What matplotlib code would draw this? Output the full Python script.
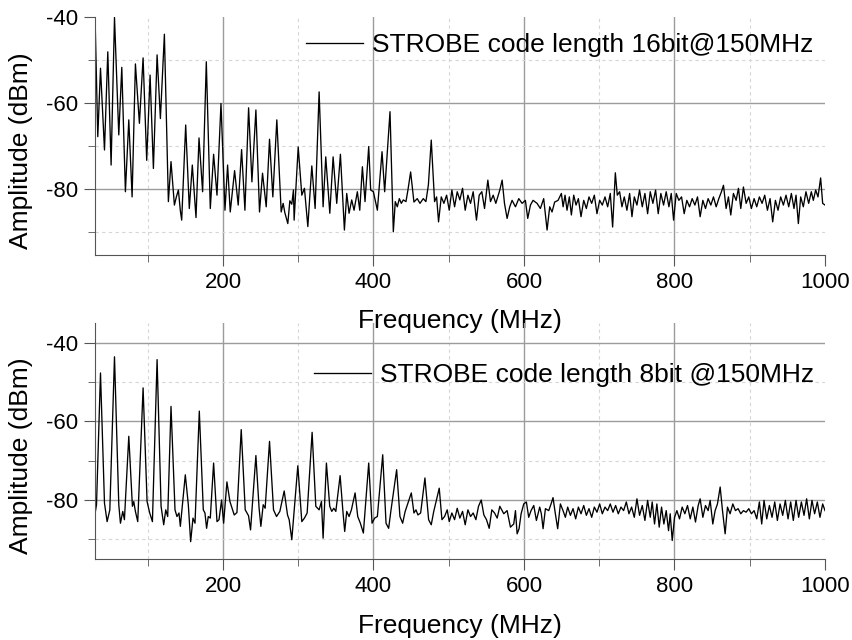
import numpy as np
import matplotlib
matplotlib.use('Agg')
import matplotlib.pyplot as plt

plt.rcParams['font.family'] = ['Liberation Sans', 'DejaVu Sans']
plt.rcParams['axes.unicode_minus'] = False

# spectrum, 16 bit code (peaks / troughs)
freq_16 = [
    30.0, 33.7, 37.3, 42.6, 47.0, 51.4, 55.9, 61.6, 65.6, 70.4,
    74.9, 79.3, 83.7, 89.0, 93.9, 98.7, 103.2, 107.6, 112.5, 116.9,
    122.2, 127.5, 131.0, 135.5, 138.1, 140.8, 143.4, 145.2, 150.5, 155.3,
    159.3, 164.2, 168.2, 173.0, 177.9, 183.2, 187.6, 192.1, 197.4, 202.7,
    206.2, 209.7, 215.5, 220.3, 224.8, 229.2, 234.1, 238.5, 243.8, 248.6,
    252.6, 257.5, 261.9, 266.3, 271.6, 277.4, 280.0, 282.3, 286.2, 288.9,
    291.5, 293.7, 294.6, 300.0, 304.8, 308.3, 312.8, 318.1, 322.5, 327.8,
    333.1, 336.6, 342.0, 346.4, 351.2, 356.1, 361.4, 364.5, 367.6, 371.1,
    374.2, 378.6, 381.8, 385.3, 388.8, 393.7, 396.3, 399.9, 405.2, 411.4,
    414.9, 422.0, 426.4, 429.0, 431.7, 434.4, 437.0, 439.7, 443.2, 446.0,
    449.4, 453.8, 458.2, 461.8, 466.2, 469.7, 473.0, 476.8, 481.2, 483.9,
    486.5, 490.1, 493.6, 497.2, 500.7, 504.2, 507.8, 511.3, 514.8, 518.4,
    521.9, 525.5, 529.0, 532.5, 536.9, 540.5, 544.0, 547.6, 552.0, 555.5,
    559.1, 562.6, 567.9, 571.0, 574.1, 577.6, 581.1, 584.2, 588.7, 593.1,
    597.5, 601.9, 605.0, 608.6, 612.1, 617.4, 621.8, 626.2, 630.7, 634.2,
    637.3, 640.8, 645.3, 649.7, 652.0, 654.6, 657.2, 660.3, 663.0, 666.1,
    669.2, 672.3, 675.8, 679.4, 682.9, 686.4, 690.0, 693.5, 697.0, 700.6,
    704.1, 707.7, 711.2, 714.7, 717.8, 721.4, 724.0, 727.1, 730.2, 733.3,
    736.8, 740.4, 743.5, 746.6, 750.1, 753.6, 757.2, 760.7, 764.3, 767.8,
    771.3, 774.9, 778.4, 781.9, 785.5, 789.0, 792.6, 795.7, 798.8, 802.3,
    805.8, 809.4, 812.9, 816.4, 820.0, 823.5, 827.1, 830.6, 834.1, 837.7,
    841.2, 844.7, 848.3, 851.8, 855.4, 858.9, 862.4, 865.1, 868.6, 871.7,
    874.8, 878.3, 881.9, 885.0, 888.1, 891.6, 895.2, 898.7, 902.2, 905.8,
    909.3, 912.8, 916.4, 919.9, 923.5, 927.0, 930.5, 934.1, 937.6, 941.1,
    944.7, 948.2, 951.8, 955.3, 958.8, 961.5, 964.6, 967.7, 971.2, 974.7,
    978.3, 981.8, 984.5, 987.6, 990.7, 994.2, 996.9, 1000.0,
]
amp_16 = [
    -39.5, -67.8, -51.9, -70.9, -48.1, -74.4, -40.1, -67.4, -51.7, -80.6,
    -63.9, -81.8, -50.9, -64.7, -49.5, -73.3, -53.5, -75.2, -48.8, -63.6,
    -44.0, -82.9, -73.6, -83.7, -81.8, -80.2, -85.0, -87.2, -65.1, -84.5,
    -74.4, -86.6, -68.1, -80.6, -50.4, -84.5, -71.9, -81.4, -60.1, -84.9,
    -74.4, -85.3, -75.7, -83.7, -70.8, -84.9, -61.1, -78.3, -61.6, -85.3,
    -76.3, -84.1, -68.4, -81.8, -63.9, -85.3, -83.3, -85.5, -88.0, -82.7,
    -83.5, -80.2, -87.2, -70.2, -81.4, -79.8, -88.7, -74.6, -84.5, -57.4,
    -84.1, -72.5, -85.6, -72.5, -83.3, -71.9, -89.5, -81.0, -85.6, -82.5,
    -84.9, -80.6, -84.9, -74.8, -82.9, -70.1, -80.2, -80.6, -84.9, -71.3,
    -80.6, -62.0, -89.9, -82.9, -84.1, -82.2, -83.3, -82.5, -82.9, -80.0,
    -76.0, -83.0, -82.2, -83.3, -82.2, -82.9, -79.0, -68.6, -82.9, -81.8,
    -87.6, -81.8, -83.3, -81.4, -84.9, -80.2, -84.1, -80.6, -82.5, -79.8,
    -84.9, -81.4, -83.3, -80.6, -87.2, -81.4, -80.6, -84.5, -77.9, -82.9,
    -81.4, -83.3, -80.2, -77.9, -83.3, -86.8, -84.1, -82.6, -84.1, -82.2,
    -83.3, -82.6, -86.8, -83.7, -82.6, -83.3, -84.5, -82.2, -89.5, -84.1,
    -85.3, -83.0, -82.6, -81.0, -84.1, -81.4, -84.9, -81.8, -86.0, -81.4,
    -83.7, -82.2, -86.4, -82.6, -84.5, -81.8, -83.3, -81.4, -85.7, -82.6,
    -83.7, -81.8, -84.1, -81.0, -88.8, -76.2, -81.4, -80.6, -84.1, -81.8,
    -84.9, -81.0, -86.4, -81.8, -83.7, -80.2, -84.1, -81.0, -85.7, -80.6,
    -83.3, -80.2, -85.7, -81.0, -83.7, -80.6, -84.1, -81.0, -87.2, -81.0,
    -82.6, -81.8, -85.7, -82.6, -84.1, -82.2, -83.7, -81.8, -86.4, -82.6,
    -84.5, -82.2, -83.7, -81.8, -84.1, -82.2, -80.6, -79.1, -84.5, -81.8,
    -86.0, -81.0, -82.6, -79.8, -84.5, -79.5, -83.3, -81.8, -84.5, -82.2,
    -84.1, -81.8, -83.3, -81.4, -84.9, -82.2, -87.6, -82.6, -84.9, -81.8,
    -83.7, -81.4, -84.1, -81.0, -84.5, -81.4, -88.0, -81.8, -84.1, -80.6,
    -83.3, -80.6, -82.6, -80.2, -81.8, -77.4, -83.3, -83.7,
]

# spectrum, 8 bit code
freq_8 = [
    30.2, 32.0, 37.3, 42.6, 46.1, 49.7, 55.9, 61.6, 63.8, 66.9,
    69.1, 74.9, 79.7, 81.5, 83.7, 86.8, 93.9, 99.2, 102.7, 106.3,
    112.5, 117.8, 121.3, 124.0, 126.6, 131.0, 136.3, 138.9, 141.6, 143.4,
    150.0, 154.0, 157.1, 160.2, 162.9, 168.6, 173.9, 176.1, 178.3, 180.5,
    183.2, 187.6, 192.1, 194.8, 198.2, 200.9, 205.3, 209.3, 215.0, 218.6,
    224.3, 229.6, 234.0, 236.7, 243.8, 248.0, 250.4, 253.5, 256.1, 261.9,
    267.2, 271.2, 275.6, 281.4, 285.8, 288.0, 291.5, 294.6, 299.5, 304.8,
    308.3, 311.9, 318.5, 323.4, 327.8, 330.9, 333.1, 337.5, 341.9, 344.6,
    347.3, 350.0, 355.7, 359.6, 361.8, 364.5, 367.6, 370.7, 375.6, 379.1,
    382.6, 386.6, 393.7, 398.1, 401.6, 405.2, 412.3, 416.7, 420.2, 423.0,
    430.8, 435.2, 438.8, 442.0, 450.3, 453.8, 456.5, 459.1, 462.7, 468.4,
    473.3, 476.8, 480.0, 487.4, 491.0, 494.5, 498.0, 500.7, 504.2, 507.8,
    511.3, 514.8, 518.4, 521.9, 525.5, 529.0, 532.5, 536.1, 539.6, 543.2,
    546.7, 550.2, 553.8, 557.3, 560.9, 564.4, 567.9, 573.2, 577.6, 582.0,
    586.4, 588.7, 590.9, 593.5, 596.2, 599.7, 603.2, 606.3, 609.4, 613.0,
    616.5, 620.9, 623.1, 625.4, 628.5, 632.9, 636.0, 638.6, 641.7, 644.8,
    648.4, 651.9, 655.0, 658.1, 661.7, 665.2, 668.7, 672.3, 675.8, 679.4,
    682.9, 686.4, 690.0, 693.5, 697.0, 700.6, 704.1, 707.7, 711.2, 714.7,
    718.3, 721.8, 725.3, 728.9, 732.4, 736.0, 739.5, 743.0, 746.6, 750.1,
    753.6, 757.2, 760.7, 764.3, 767.8, 770.4, 773.5, 776.6, 779.7, 782.8,
    785.9, 789.0, 792.1, 794.3, 797.0, 800.1, 803.2, 806.7, 810.2, 813.8,
    817.3, 820.9, 824.4, 827.9, 831.5, 834.1, 837.7, 841.2, 844.7, 847.4,
    850.9, 854.0, 857.1, 860.7, 863.8, 867.3, 870.4, 873.9, 877.5, 881.0,
    884.5, 888.1, 891.6, 895.2, 898.7, 902.2, 905.8, 909.3, 912.8, 915.9,
    919.0, 922.6, 926.1, 929.6, 933.2, 936.7, 940.3, 943.8, 947.3, 950.9,
    954.4, 957.9, 961.5, 965.0, 968.6, 972.1, 975.6, 979.2, 982.7, 986.2,
    989.8, 993.3, 996.9, 1000.0,
]
amp_8 = [
    -83.3, -81.2, -47.7, -80.8, -85.5, -82.5, -43.6, -81.2, -85.9, -82.9,
    -85.0, -63.8, -81.6, -80.4, -82.9, -85.5, -51.5, -80.4, -83.3, -85.5,
    -44.3, -81.6, -86.3, -82.5, -84.2, -56.2, -82.5, -84.2, -83.3, -86.7,
    -73.6, -81.2, -90.6, -84.6, -85.9, -57.4, -82.5, -83.3, -87.2, -84.2,
    -84.6, -70.6, -85.5, -85.0, -80.0, -85.9, -75.4, -80.4, -83.8, -83.2,
    -62.1, -82.5, -84.0, -87.6, -68.7, -82.0, -86.7, -81.2, -82.1, -65.1,
    -82.5, -84.2, -82.9, -77.7, -83.8, -85.0, -90.1, -82.9, -71.3, -85.5,
    -84.6, -83.3, -62.8, -81.6, -82.5, -80.4, -89.7, -70.6, -81.6, -82.9,
    -82.1, -82.9, -73.8, -83.3, -88.0, -82.9, -84.2, -82.5, -78.2, -84.2,
    -85.9, -88.4, -70.6, -85.9, -84.6, -84.2, -68.5, -85.9, -87.2, -83.0,
    -72.3, -84.2, -85.9, -83.0, -78.2, -83.3, -82.5, -83.8, -83.3, -74.4,
    -85.0, -86.3, -83.0, -77.0, -85.0, -84.2, -82.5, -85.5, -83.3, -85.0,
    -82.1, -84.6, -82.9, -86.3, -82.5, -84.2, -83.3, -85.0, -81.6, -80.0,
    -83.8, -85.0, -87.2, -82.5, -83.3, -84.6, -81.6, -83.5, -82.7, -86.9,
    -86.1, -82.7, -88.6, -87.3, -83.5, -81.0, -80.5, -84.4, -82.7, -81.4,
    -85.2, -81.8, -83.5, -87.3, -82.2, -82.7, -81.0, -79.4, -83.5, -87.3,
    -81.0, -82.7, -84.4, -81.8, -83.9, -82.2, -84.8, -81.8, -83.5, -81.4,
    -83.9, -82.2, -84.4, -81.8, -83.1, -81.0, -83.5, -81.8, -82.7, -81.0,
    -83.1, -81.4, -83.5, -81.8, -82.7, -80.5, -83.5, -81.8, -84.4, -79.7,
    -83.9, -81.4, -85.2, -80.1, -84.4, -80.5, -86.1, -81.0, -86.9, -81.8,
    -86.1, -82.7, -87.8, -83.5, -90.3, -84.4, -82.7, -84.8, -81.8, -83.5,
    -81.4, -84.8, -81.8, -85.6, -81.4, -79.7, -84.4, -81.4, -82.7, -80.1,
    -86.1, -82.7, -81.0, -76.7, -82.7, -88.6, -81.8, -83.5, -81.0, -82.7,
    -82.2, -83.5, -82.7, -83.1, -82.2, -83.5, -82.7, -84.8, -80.5, -86.1,
    -80.1, -84.8, -81.4, -84.4, -80.5, -85.2, -81.0, -83.9, -80.1, -84.8,
    -80.5, -85.2, -80.1, -84.4, -80.5, -83.9, -79.7, -84.8, -80.1, -83.5,
    -80.5, -84.4, -81.0, -82.7,
]

assert len(freq_16) == len(amp_16), (len(freq_16), len(amp_16))
assert len(freq_8) == len(amp_8), (len(freq_8), len(amp_8))

legend_labels = ['STROBE code length 16bit@150MHz', 'STROBE code length 8bit @150MHz']
x_major = [200, 400, 600, 800, 1000]
x_minor = [100, 300, 500, 700, 900]
y_major = [-80, -60, -40]
y_minor = [-90, -70, -50]

fig = plt.figure(figsize=(8.53, 6.4), dpi=100)


def panel(rect, f, a, label, ylim, leg_xy, ylab_y, xlab_y, hide_top_grid):
    ax = fig.add_axes(rect)
    ax.patch.set_alpha(0)
    ax.plot(f, a, color='black', lw=0.95, label=label)
    ax.set_xlim(30, 1000)
    ax.set_ylim(*ylim)
    ax.set_xticks(x_major)
    ax.set_xticks(x_minor, minor=True)
    ax.set_yticks(y_major)
    ax.set_yticks(y_minor, minor=True)
    ax.grid(which='major', color='#9c9c9c', lw=1.0, ls='-')
    ax.grid(which='minor', color='#d6d6d6', lw=0.8, ls=(0, (3, 3)))
    ax.set_axisbelow(True)
    for s in ['top', 'right']:
        ax.spines[s].set_visible(False)
    for s in ['left', 'bottom']:
        ax.spines[s].set_color('#555555')
    ax.tick_params(which='both', direction='out', color='#555555',
                   labelsize=16, pad=4)
    ax.tick_params(which='major', length=8)
    ax.tick_params(which='minor', length=5)
    ax.xaxis.get_major_ticks()[-1].gridline.set_visible(False)
    if hide_top_grid:
        ax.yaxis.get_major_ticks()[-1].gridline.set_visible(False)
    ax.set_xlabel('Frequency (MHz)', fontsize=19)
    ax.set_ylabel('Amplitude (dBm)', fontsize=19)
    ax.xaxis.set_label_coords(0.5, xlab_y)
    ax.yaxis.set_label_coords(-0.085, ylab_y)
    ax.legend(loc='upper left', bbox_to_anchor=leg_xy, frameon=False,
              fontsize=19, handlelength=2.16, handletextpad=0.34,
              borderpad=0, borderaxespad=0)
    return ax


panel([95 / 853, 1 - 255 / 640, 730 / 853, 238 / 640], freq_16, amp_16,
      legend_labels[0], (-95.3, -40), (0.289, 0.933), 0.44, -0.226, True)
panel([95 / 853, 1 - 559 / 640, 730 / 853, 236 / 640], freq_8, amp_8,
      legend_labels[1], (-95, -35), (0.300, 0.831), 0.436, -0.232, False)

fig.savefig('out.png', dpi=100)
